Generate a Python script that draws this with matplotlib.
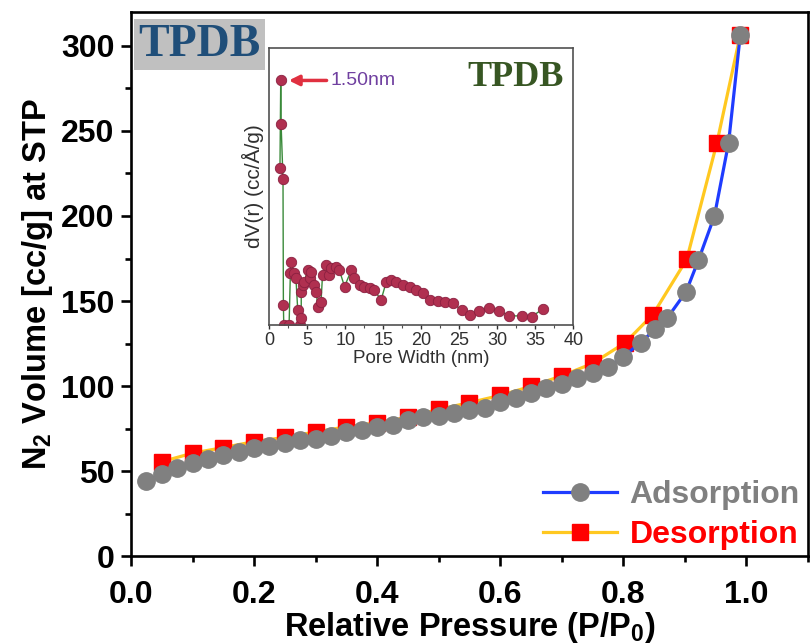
import matplotlib
matplotlib.use("Agg")
import matplotlib.pyplot as plt
from matplotlib.ticker import MultipleLocator
from matplotlib.lines import Line2D

plt.rcParams['font.family'] = ['Liberation Sans', 'DejaVu Sans']
plt.rcParams['mathtext.fontset'] = 'custom'
plt.rcParams['mathtext.rm'] = 'Liberation Sans:bold'
plt.rcParams['mathtext.it'] = 'Liberation Sans:bold'
plt.rcParams['mathtext.bf'] = 'Liberation Sans:bold'

# ---------------- data ----------------
ads_p = [0.025, 0.05, 0.075, 0.1, 0.125, 0.15, 0.175, 0.2, 0.225, 0.25, 0.275, 0.3,
         0.325, 0.35, 0.375, 0.4, 0.425, 0.45, 0.475, 0.5, 0.525, 0.55, 0.575, 0.6,
         0.625, 0.65, 0.675, 0.7, 0.725, 0.75, 0.775, 0.8, 0.828, 0.852, 0.871,
         0.902, 0.922, 0.948, 0.971, 0.99]
ads_v = [44, 48, 52, 55, 57, 59.5, 61, 63.5, 64.5, 66.3, 68, 69,
         70.6, 73, 74, 76, 77, 80, 81.6, 82.4, 84.3, 86, 87, 90.5,
         93, 95.7, 98.6, 101.2, 104.5, 107.8, 111, 117.3, 125.5, 133.5, 139.8,
         155.5, 174, 200, 243, 306.5]

des_p = [0.05, 0.1, 0.15, 0.2, 0.25, 0.3, 0.35, 0.4, 0.45, 0.5, 0.55, 0.6, 0.65,
         0.7, 0.75, 0.803, 0.848, 0.903, 0.952, 0.99]
des_v = [55.5, 60.5, 63.8, 67.3, 69.8, 73, 76, 78.4, 81.6, 86.3, 90.2, 94.5, 99.8,
         106, 113.3, 125.5, 142, 174.5, 243, 306.5]

pore_w = [1.4, 1.5, 1.55, 1.8, 1.85, 1.9, 2.6, 2.77, 2.86, 3.3, 3.5, 3.74, 4.0, 4.2,
          4.2, 4.4, 4.6, 5.05, 5.3, 5.5, 5.9, 6.15, 6.4, 6.8, 7.0, 7.5, 7.9, 8.1,
          8.8, 9.2, 9.9, 10.8, 11.2, 11.9, 12.5, 13.2, 13.8, 14.7, 15.4, 16.0, 16.7,
          17.6, 18.5, 19.3, 20.2, 21.1, 22.2, 23.1, 24.2, 25.3, 26.4, 27.6, 28.9,
          30.2, 31.6, 33.2, 34.5, 36.0]
pore_dv = [0.566, 0.883, 0.725, 0.527, 0.072, 0.0, 0.0, 0.187, 0.229, 0.187, 0.169,
           0.054, 0.0, 0.024, 0.12, 0.145, 0.157, 0.199, 0.169, 0.193, 0.145, 0.12,
           0.066, 0.082, 0.181, 0.217, 0.181, 0.205, 0.211, 0.199, 0.139, 0.199,
           0.169, 0.145, 0.139, 0.133, 0.127, 0.090, 0.157, 0.163, 0.157, 0.145,
           0.139, 0.127, 0.114, 0.090, 0.087, 0.084, 0.078, 0.054, 0.036, 0.051,
           0.063, 0.051, 0.033, 0.033, 0.030, 0.058]

x_ticks = [0.0, 0.2, 0.4, 0.6, 0.8, 1.0]
y_ticks = [0, 50, 100, 150, 200, 250, 300]
inset_ticks = [0, 5, 10, 15, 20, 25, 30, 35, 40]

# ---------------- figure ----------------
fig = plt.figure(figsize=(8.1, 6.44), dpi=100)
ax = fig.add_axes([0.1617, 0.1366, 0.8358, 0.8448])

ax.plot(des_p, des_v, color='#ffc820', lw=2.3, marker='s', ms=11,
        mfc='#ff0000', mec='#ff0000', zorder=3)
ax.plot(ads_p, ads_v, color='#1f3cff', lw=2.3, marker='o', ms=12.5,
        mfc='#808080', mec='#808080', zorder=4)

ax.set_xlim(0, 1.1)
ax.set_ylim(0, 320)
ax.set_xticks(x_ticks)
ax.set_xticklabels([f'{t:.1f}' for t in x_ticks])
ax.set_yticks(y_ticks)
ax.xaxis.set_minor_locator(MultipleLocator(0.1))
ax.yaxis.set_minor_locator(MultipleLocator(25))
for s in ax.spines.values():
    s.set_linewidth(1.9)
ax.tick_params(which='major', direction='out', length=7, width=1.9,
               labelsize=23, pad=5)
ax.tick_params(axis='x', which='major', pad=10)
ax.tick_params(which='minor', direction='out', length=4, width=1.9)
for lab in ax.get_xticklabels() + ax.get_yticklabels():
    lab.set_fontweight('bold')

ax.set_xlabel(r'Relative Pressure (P/P$_0$)', fontsize=23.5, fontweight='bold', labelpad=0)
ax.set_ylabel(r'N$_2$ Volume [cc/g] at STP', fontsize=23.5, fontweight='bold', labelpad=4)

handles = [Line2D([], [], color='#1f3cff', lw=2.3, marker='o', ms=12.5,
                  mfc='#808080', mec='#808080'),
           Line2D([], [], color='#ffc820', lw=2.3, marker='s', ms=11,
                  mfc='#ff0000', mec='#ff0000')]
leg = ax.legend(handles, ['Adsorption', 'Desorption'], loc='lower right',
                frameon=False, prop={'size': 23, 'weight': 'bold'},
                handlelength=2.3, handletextpad=0.4, labelspacing=0.3,
                borderaxespad=0.0, bbox_to_anchor=(1.007, -0.012))
leg.get_texts()[0].set_color('#808080')
leg.get_texts()[1].set_color('#ff0000')

fig.text(0.2463, 0.9309, 'TPDB', family='Liberation Serif', fontweight='bold',
         fontsize=33, color='#1f4e79', ha='center', va='center',
         bbox=dict(boxstyle='square,pad=0.1', facecolor='#c0c0c0', edgecolor='none'))

# ---------------- inset ----------------
ins = fig.add_axes([0.3325, 0.4953, 0.3753, 0.4301])
ins.plot(pore_w, pore_dv, color='#3a8a3a', lw=1.0, marker='o', ms=7.5,
         mfc='#b03050', mec='#8a2040', mew=0.6)
ins.set_xlim(0, 40)
ins.set_ylim(0, 1.0)
ins.set_xticks(inset_ticks)
ins.xaxis.set_minor_locator(MultipleLocator(2.5))
ins.set_yticks([])
for s in ins.spines.values():
    s.set_linewidth(1.2)
    s.set_color('#505050')
ins.tick_params(which='major', direction='out', length=3, width=1.0,
                labelsize=13, colors='#303030', pad=2)
ins.tick_params(which='minor', direction='out', length=2, width=0.8, colors='#505050')
ins.set_xlabel('Pore Width (nm)', fontsize=13.5, color='#303030', labelpad=1)
ins.set_ylabel('dV(r) (cc/\u00c5/g)', fontsize=15, color='#303030', labelpad=4)
ins.annotate('', xy=(2.2, 0.883), xytext=(7.9, 0.883),
             arrowprops=dict(arrowstyle='-|>', color='#e03040', lw=2.5, mutation_scale=15))
ins.text(8.0, 0.883, '1.50nm', color='#7040a0', fontsize=14, va='center', ha='left')
ins.text(0.97, 0.955, 'TPDB', transform=ins.transAxes, family='Liberation Serif',
         fontweight='bold', fontsize=26, color='#375623', ha='right', va='top')

fig.savefig('out.png', dpi=100)
